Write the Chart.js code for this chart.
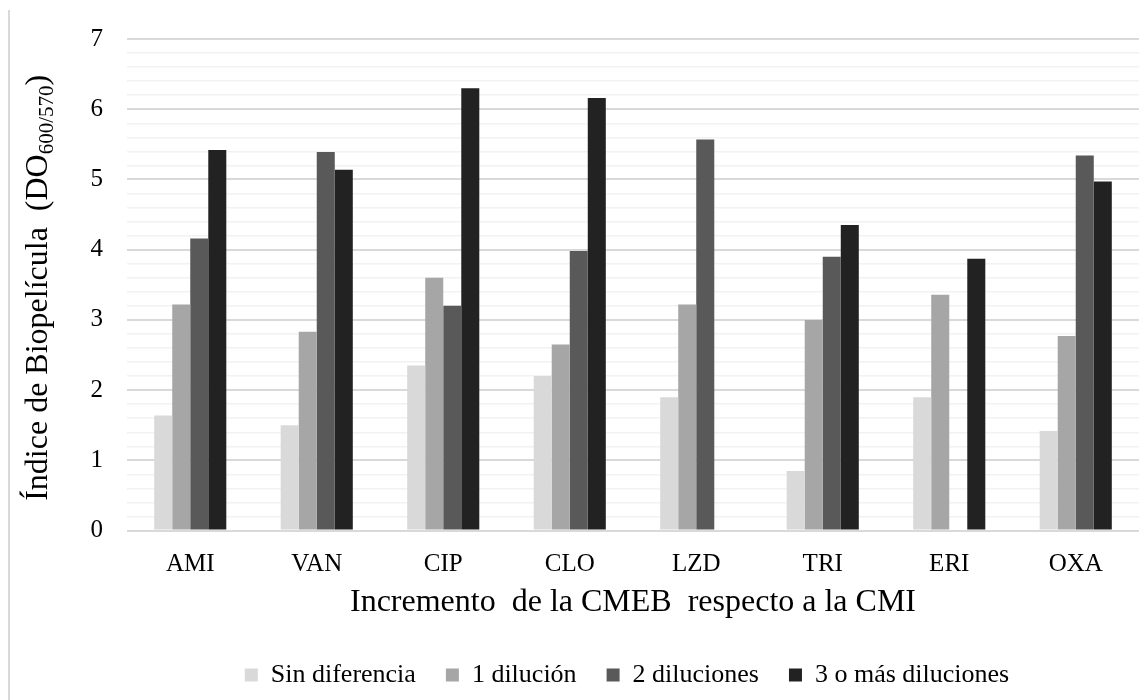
<!DOCTYPE html>
<html>
<head>
<meta charset="utf-8">
<script src="https://cdn.jsdelivr.net/npm/chart.js@4/dist/chart.umd.min.js"></script>
<style>
  html, body { margin: 0; padding: 0; background: #fff; }
  #wrap { width: 1146px; height: 700px; position: relative; }
</style>
</head>
<body>
<div id="wrap"><canvas id="c"></canvas></div>
<script>
const categories = ['AMI', 'VAN', 'CIP', 'CLO', 'LZD', 'TRI', 'ERI', 'OXA'];
const seriesNames = ['Sin diferencia', '1 dilución', '2 diluciones', '3 o más diluciones'];
const sinDiferencia = [1.64, 1.50, 2.35, 2.20, 1.90, 0.85, 1.90, 1.42];
const unaDilucion   = [3.22, 2.83, 3.60, 2.65, 3.22, 3.00, 3.36, 2.77];
const dosDiluciones = [4.16, 5.39, 3.20, 3.98, 5.57, 3.90, null, 5.34];
const tresOMas      = [5.42, 5.14, 6.30, 6.16, null, 4.35, 3.87, 4.97];
const yTicks = [0, 1, 2, 3, 4, 5, 6, 7];
const xTitle = 'Incremento  de la CMEB  respecto a la CMI';
const yTitleMain = 'Índice de Biopelícula  (DO';
const yTitleSub = '600/570';
const yTitleEnd = ')';

const colors = ['#d9d9d9', '#a6a6a6', '#595959', '#222222'];
const FONT = "'Liberation Serif', 'Times New Roman', serif";
Chart.defaults.font.family = FONT;
Chart.defaults.color = '#000';

const isMajor = v => Math.abs(v - Math.round(v)) < 1e-6;

const decorPlugin = {
  id: 'decor',
  afterLayout(chart) {
    const lg = chart.legend;
    if (lg) {
      const area = chart.chartArea;
      const target = (area.left + area.right) / 2 - 6;
      const d = target - (lg.left + lg.right) / 2;
      lg.left += d;
      lg.right += d;
    }
  },
  beforeDraw(chart) {
    const ctx = chart.ctx;
    ctx.save();
    ctx.fillStyle = '#fff';
    ctx.fillRect(0, 0, chart.width, chart.height);
    ctx.strokeStyle = '#d9d9d9';
    ctx.lineWidth = 2;
    ctx.beginPath();
    ctx.moveTo(9, 10);
    ctx.lineTo(9, chart.height);
    ctx.stroke();
    ctx.restore();
  },
  afterDraw(chart) {
    const ctx = chart.ctx;
    const area = chart.chartArea;
    const cy = (area.top + area.bottom) / 2 + 3;
    ctx.save();
    ctx.translate(39, cy);
    ctx.rotate(-Math.PI / 2);
    ctx.fillStyle = '#000';
    ctx.textBaseline = 'middle';
    const mainFont = '32px ' + FONT;
    const subFont = '21px ' + FONT;
    ctx.font = mainFont;
    const w1 = ctx.measureText(yTitleMain).width;
    const w3 = ctx.measureText(yTitleEnd).width;
    ctx.font = subFont;
    const w2 = ctx.measureText(yTitleSub).width;
    const total = w1 + w2 + w3;
    let x = -total / 2;
    ctx.textAlign = 'left';
    ctx.font = mainFont;
    ctx.fillText(yTitleMain, x, 0);
    x += w1;
    ctx.font = subFont;
    ctx.fillText(yTitleSub, x, 8);
    x += w2;
    ctx.font = mainFont;
    ctx.fillText(yTitleEnd, x, 0);
    ctx.restore();
  }
};

const datasets = [sinDiferencia, unaDilucion, dosDiluciones, tresOMas].map((d, i) => ({
  label: seriesNames[i],
  data: d,
  backgroundColor: colors[i],
  borderWidth: 0,
  categoryPercentage: 0.57,
  barPercentage: 1.0
}));

new Chart(document.getElementById('c'), {
  type: 'bar',
  data: { labels: categories, datasets },
  plugins: [decorPlugin],
  options: {
    responsive: true,
    maintainAspectRatio: false,
    animation: false,
    events: [],
    layout: { padding: { top: 34, right: 7, bottom: 2, left: 0 } },
    plugins: {
      tooltip: { enabled: false },
      legend: {
        position: 'bottom',
        labels: {
          boxWidth: 13,
          boxHeight: 13,
          padding: 30,
          color: '#000',
          font: { family: FONT, size: 26, lineHeight: 1.0 }
        }
      }
    },
    scales: {
      x: {
        grid: { display: false, drawTicks: false },
        border: { display: false },
        ticks: { color: '#000', font: { family: FONT, size: 25 }, padding: 19, maxRotation: 0 },
        title: { display: true, text: xTitle, color: '#000', font: { family: FONT, size: 32 }, padding: { top: 0, bottom: 10 } },
        afterFit(scale) { scale.height = 101.4; }
      },
      y: {
        min: 0,
        max: 7,
        grid: {
          drawTicks: false,
          color: ctx => isMajor(ctx.tick.value) ? '#d9d9d9' : '#f2f2f2',
          lineWidth: ctx => isMajor(ctx.tick.value) ? 2 : 1.5
        },
        border: { display: false },
        ticks: {
          stepSize: 0.2,
          autoSkip: false,
          padding: 24,
          color: '#000',
          font: { family: FONT, size: 25 },
          callback: v => {
            const r = Math.round(v);
            return (isMajor(v) && yTicks.includes(r)) ? String(r) : '';
          }
        },
        afterFit(scale) { scale.width = 127; }
      }
    }
  }
});
</script>
</body>
</html>
